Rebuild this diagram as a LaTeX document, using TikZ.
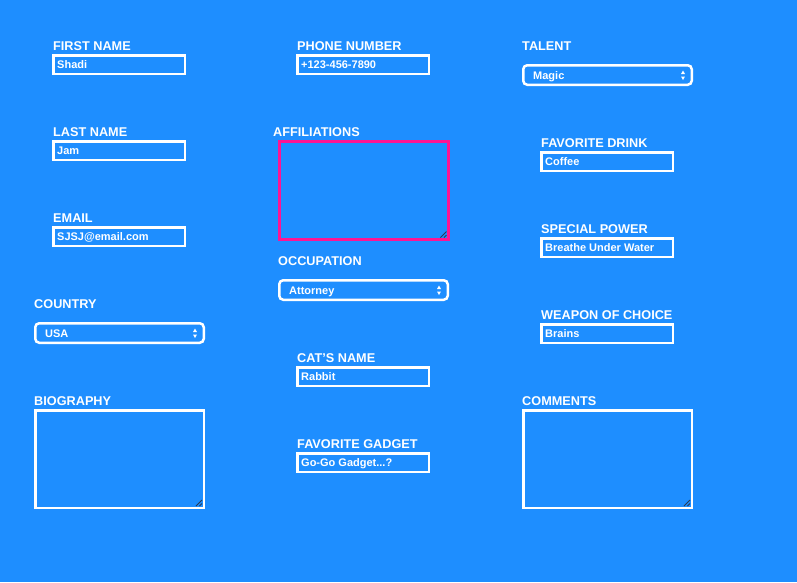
\documentclass[tikz,border=0pt]{standalone}
\usepackage{fontspec}
\setmainfont{Liberation Sans}
\definecolor{bg}{HTML}{1E8EFF}
\definecolor{pinkb}{HTML}{FF1493}
\definecolor{grip}{HTML}{2A3A55}
\begin{document}
\begin{tikzpicture}[x=1pt,y=-1pt,
  lbl/.style={anchor=base west,inner sep=0,text=white,font=\bfseries\fontsize{12.7}{13}\selectfont},
  val/.style={anchor=base west,inner sep=0,text=white,font=\bfseries\fontsize{11}{11}\selectfont},
  inbox/.style={draw=white,line width=2.5pt,minimum width=131.5pt,minimum height=18.5pt,anchor=north west,inner sep=0},
  selbox/.style={draw=white,line width=2.5pt,rounded corners=4pt,minimum width=168.5pt,minimum height=19.5pt,anchor=north west,inner sep=0},
  areabox/.style={draw=white,line width=2.5pt,minimum width=168.5pt,minimum height=97.5pt,anchor=north west,inner sep=0},
  gripline/.style={draw=grip,line width=0.8pt},
  arr/.style={fill=white,draw=none}
]
\useasboundingbox[fill=bg] (0,0) rectangle (797,582);

% ---------- text inputs ----------
\newcommand{\inputfield}[5]{% name, x, top, label, value
  \node[inbox] (#1) at (#2,#3) {};
  \node[lbl] (#1-l) at (#2+1,#3-4) {#4};
  \node[val] (#1-v) at ([xshift=5pt,yshift=-3.8pt]#1.west) {#5};
}
\inputfield{first}{52}{54}{FIRST NAME}{Shadi}
\inputfield{last}{52}{140}{LAST NAME}{Jam}
\inputfield{email}{52}{226}{EMAIL}{SJSJ@email.com}
\inputfield{phone}{296}{54}{PHONE NUMBER}{+123-456-7890}
\inputfield{cat}{296}{366}{CAT'S NAME}{Rabbit}
\inputfield{gadget}{296}{452}{FAVORITE GADGET}{Go-Go Gadget...?}
\inputfield{drink}{540}{151}{FAVORITE DRINK}{Coffee}
\inputfield{power}{540}{237}{SPECIAL POWER}{Breathe Under Water}
\inputfield{weapon}{540}{323}{WEAPON OF CHOICE}{Brains}

% ---------- selects ----------
\newcommand{\selectfield}[5]{% name, x, top, label, value
  \node[selbox] (#1) at (#2,#3) {};
  \node[lbl] (#1-l) at (#2,#3-14) {#4};
  \node[val] (#1-v) at ([xshift=11pt,yshift=-4pt]#1.west) {#5};
  \coordinate (#1-a) at ([xshift=-10pt]#1.east);
  \fill[arr] ([xshift=-2pt,yshift=1pt]#1-a) -- ([xshift=2pt,yshift=1pt]#1-a) -- ([yshift=4.5pt]#1-a) -- cycle;
  \fill[arr] ([xshift=-2pt,yshift=-1.5pt]#1-a) -- ([xshift=2pt,yshift=-1.5pt]#1-a) -- ([yshift=-5pt]#1-a) -- cycle;
}
\selectfield{talent}{522}{64}{TALENT}{Magic}
\selectfield{country}{34}{322}{COUNTRY}{USA}
\selectfield{occup}{278}{279}{OCCUPATION}{Attorney}

% ---------- textareas ----------
\newcommand{\areafield}[5]{% name, x, top, label, colour
  \node[areabox,draw=#5] (#1) at (#2,#3) {};
  \node[lbl] (#1-l) at (#2,#3-4) {#4};
  \draw[gripline] ([xshift=-9pt,yshift=3pt]#1.south east) -- ([xshift=-3pt,yshift=9pt]#1.south east);
  \draw[gripline] ([xshift=-5.5pt,yshift=3pt]#1.south east) -- ([xshift=-3pt,yshift=5.5pt]#1.south east);
}
\areafield{bio}{34}{409}{BIOGRAPHY}{white}
\areafield{comments}{522}{409}{COMMENTS}{white}
\node[areabox,draw=pinkb,line width=3pt] (affil) at (278,140) {};
\node[lbl] (affil-l) at (273,136) {AFFILIATIONS};
\draw[gripline] ([xshift=-9pt,yshift=3pt]affil.south east) -- ([xshift=-3pt,yshift=9pt]affil.south east);
\draw[gripline] ([xshift=-5.5pt,yshift=3pt]affil.south east) -- ([xshift=-3pt,yshift=5.5pt]affil.south east);
\end{tikzpicture}
\end{document}
